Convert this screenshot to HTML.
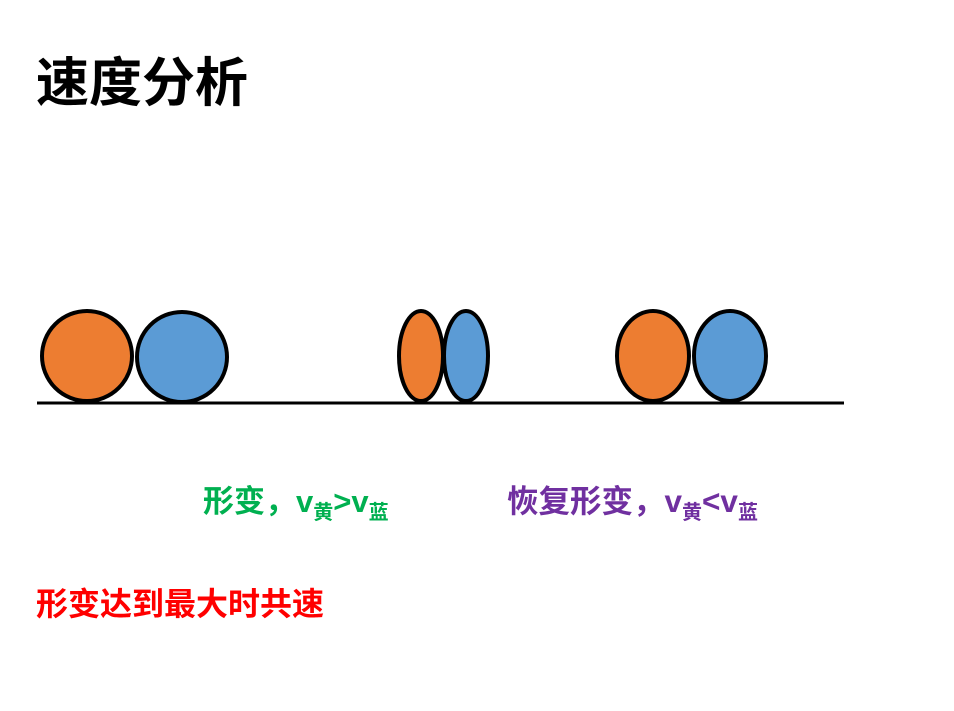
<!DOCTYPE html>
<html><head><meta charset="utf-8"><style>
body{margin:0;width:954px;height:711px;background:#fff;overflow:hidden;position:relative;font-family:"Liberation Sans","Noto Sans CJK SC",sans-serif;font-weight:bold}
.t{position:absolute;white-space:nowrap;line-height:1}
sub{font-size:20px;vertical-align:-7px}
</style></head><body>
<div class="t" style="left:36px;top:57px;font-size:53px;color:#000">速度分析</div>
<svg width="954" height="711" style="position:absolute;left:0;top:0">
<g stroke="#000" stroke-width="4">
<ellipse cx="87" cy="356" rx="45" ry="45" fill="#ED7D31"/>
<ellipse cx="182" cy="357" rx="45" ry="45" fill="#5B9BD5"/>
<ellipse cx="421" cy="356" rx="22" ry="45" fill="#ED7D31"/>
<ellipse cx="466" cy="356" rx="22" ry="45" fill="#5B9BD5"/>
<ellipse cx="653" cy="356" rx="36" ry="45" fill="#ED7D31"/>
<ellipse cx="730" cy="356" rx="36" ry="45" fill="#5B9BD5"/>
</g>
<line x1="37" y1="403" x2="844" y2="403" stroke="#000" stroke-width="3"/>
</svg>
<div class="t" style="left:203px;top:486px;font-size:31px;color:#00B050">形变，v<sub>黄</sub>&gt;v<sub>蓝</sub></div>
<div class="t" style="left:507px;top:486px;font-size:31.5px;color:#7030A0">恢复形变，v<sub>黄</sub>&lt;v<sub>蓝</sub></div>
<div class="t" style="left:36px;top:588px;font-size:32px;color:#FF0000">形变达到最大时共速</div>
</body></html>
